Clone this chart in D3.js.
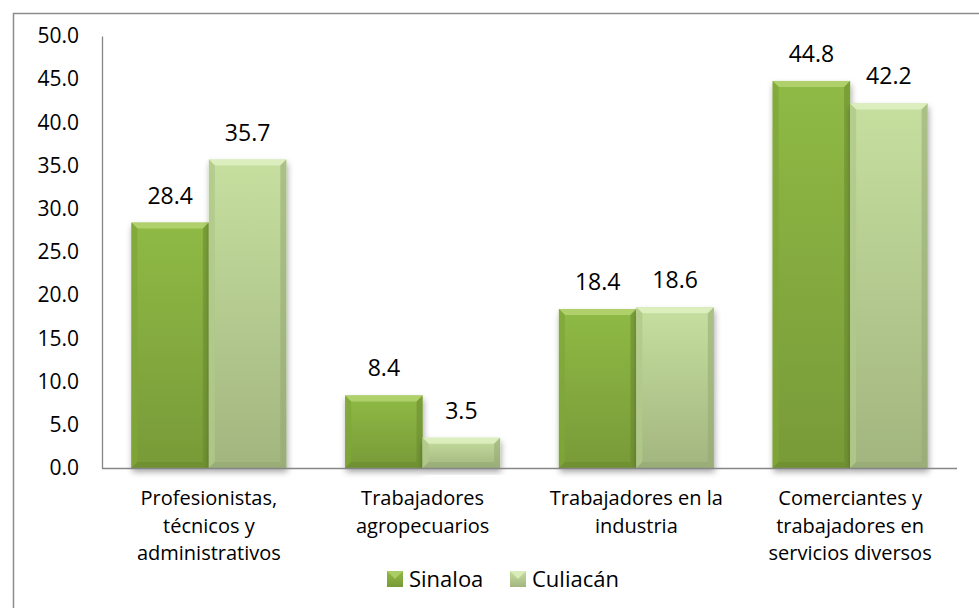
<!DOCTYPE html>
<html>
<head>
<meta charset="utf-8">
<script src="https://cdn.jsdelivr.net/npm/d3@7"></script>
<style>
  html, body { margin: 0; padding: 0; background: #fff; }
  svg { display: block; font-family: "Open Sans", "DejaVu Sans", sans-serif; }
</style>
</head>
<body>
<svg id="chart" width="979" height="608"></svg>
<script>
// Occupational groups (line breaks mark the wrapped label lines)
const categories = [
  "Profesionistas,\ntécnicos y\nadministrativos",
  "Trabajadores\nagropecuarios",
  "Trabajadores en la\nindustria",
  "Comerciantes y\ntrabajadores en\nservicios diversos"
];
const seriesNames = ["Sinaloa", "Culiacán"];
const sinaloa = [28.4, 8.4, 18.4, 44.8];
const culiacan = [35.7, 3.5, 18.6, 42.2];
const yTicks = [0, 5, 10, 15, 20, 25, 30, 35, 40, 45, 50];

const rows = categories.map((c, i) => ({ cat: c, values: [sinaloa[i], culiacan[i]] }));

const svg = d3.select("#chart");
const W = 979, H = 608;
const plot = { left: 102, right: 957, top: 36, bottom: 468 };

// Palette per series: body gradient (top, bottom), bevel tones
const palette = [
  { top: "#8fba45", bottom: "#789a38", hi: "#b2d36f", side: "#7fa63a", low: "#6a8a30" },
  { top: "#c6df9f", bottom: "#a2b57f", hi: "#def0c0", side: "#b0c98a", low: "#95a874" }
];

const defs = svg.append("defs");
palette.forEach((p, i) => {
  const g = defs.append("linearGradient").attr("id", "body" + i)
    .attr("x1", 0).attr("y1", 0).attr("x2", 0).attr("y2", 1);
  g.append("stop").attr("offset", "0%").attr("stop-color", p.top);
  g.append("stop").attr("offset", "100%").attr("stop-color", p.bottom);
});
const shadow = defs.append("filter").attr("id", "shadow")
  .attr("x", "-20%").attr("y", "-20%").attr("width", "140%").attr("height", "140%");
shadow.append("feDropShadow").attr("dx", 1).attr("dy", 4)
  .attr("stdDeviation", 3).attr("flood-color", "#000").attr("flood-opacity", 0.35);

// Chart frame
svg.append("rect")
  .attr("x", 13.5).attr("y", 13.5)
  .attr("width", W).attr("height", H)
  .attr("fill", "#fff").attr("stroke", "#8c8c8c").attr("stroke-width", 1.5);

// Scales
const x0 = d3.scaleBand().domain(d3.range(categories.length))
  .range([plot.left, plot.right]).paddingInner(0.275).paddingOuter(0.1375);
const x1 = d3.scaleBand().domain([0, 1]).range([0, x0.bandwidth()]);
const y = d3.scaleLinear().domain([0, 50]).range([plot.bottom, plot.top]);

// Y axis labels
const yAxis = d3.axisLeft(y).tickValues(yTicks).tickFormat(d3.format(".1f"))
  .tickSize(0).tickPadding(23);
const yg = svg.append("g").attr("transform", `translate(${plot.left},0)`).call(yAxis);
yg.select(".domain").attr("stroke", "#868686").attr("stroke-width", 1.3);
yg.selectAll("text").attr("font-size", 21).attr("fill", "#000")
  .attr("font-family", "'Open Sans', sans-serif");

// Bars with bevelled edges
const bev = 6;
function drawBar(g, bx, by, bw, bh, p, i) {
  const grp = g.append("g").attr("filter", "url(#shadow)");
  grp.append("rect").attr("x", bx).attr("y", by).attr("width", bw).attr("height", bh)
    .attr("fill", `url(#body${i})`);
  const b = Math.min(bev, bh / 2);
  const poly = pts => pts.map(q => q.join(",")).join(" ");
  // top edge
  grp.append("polygon").attr("points", poly([[bx, by], [bx + bw, by], [bx + bw - b, by + b], [bx + b, by + b]]))
    .attr("fill", p.hi).attr("opacity", 0.9);
  // left edge
  grp.append("polygon").attr("points", poly([[bx, by], [bx + b, by + b], [bx + b, by + bh - b], [bx, by + bh]]))
    .attr("fill", p.side).attr("opacity", 0.8);
  // right edge
  grp.append("polygon").attr("points", poly([[bx + bw, by], [bx + bw - b, by + b], [bx + bw - b, by + bh - b], [bx + bw, by + bh]]))
    .attr("fill", p.low).attr("opacity", 0.55);
  // bottom edge
  grp.append("polygon").attr("points", poly([[bx, by + bh], [bx + b, by + bh - b], [bx + bw - b, by + bh - b], [bx + bw, by + bh]]))
    .attr("fill", p.low).attr("opacity", 0.6);
}

const barsG = svg.append("g");
rows.forEach((r, ci) => {
  r.values.forEach((v, si) => {
    const bx = x0(ci) + x1(si);
    drawBar(barsG, bx, y(v), x1.bandwidth(), y(0) - y(v), palette[si], si);
  });
});

// X axis line
svg.append("line")
  .attr("x1", plot.left).attr("x2", plot.right)
  .attr("y1", plot.bottom + 0.5).attr("y2", plot.bottom + 0.5)
  .attr("stroke", "#868686").attr("stroke-width", 1.3);

// Value labels
const labelsG = svg.append("g");
rows.forEach((r, ci) => {
  r.values.forEach((v, si) => {
    labelsG.append("text")
      .attr("x", x0(ci) + x1(si) + x1.bandwidth() / 2)
      .attr("y", y(v) - 19)
      .attr("text-anchor", "middle")
      .attr("font-size", 23)
      .attr("fill", "#000")
      .text(d3.format(".1f")(v));
  });
});

// Category labels
const catG = svg.append("g");
categories.forEach((c, ci) => {
  const t = catG.append("text")
    .attr("x", x0(ci) + x0.bandwidth() / 2)
    .attr("y", 505)
    .attr("text-anchor", "middle")
    .attr("font-size", 20)
    .attr("fill", "#000");
  c.split("\n").forEach((line, li) => {
    t.append("tspan").attr("x", x0(ci) + x0.bandwidth() / 2)
      .attr("y", 505 + li * 27.5).text(line);
  });
});

// Legend
const legend = svg.append("g");
const legendX = [387, 510];
seriesNames.forEach((name, si) => {
  const lx = legendX[si];
  const p = palette[si];
  legend.append("rect").attr("x", lx).attr("y", 571).attr("width", 16).attr("height", 16)
    .attr("fill", `url(#body${si})`);
  legend.append("polygon")
    .attr("points", `${lx},571 ${lx + 16},571 ${lx + 8},579`)
    .attr("fill", p.hi).attr("opacity", 0.8);
  legend.append("text").attr("x", lx + 22).attr("y", 587)
    .attr("font-size", 22).attr("fill", "#000").text(name);
});
</script>
</body>
</html>
